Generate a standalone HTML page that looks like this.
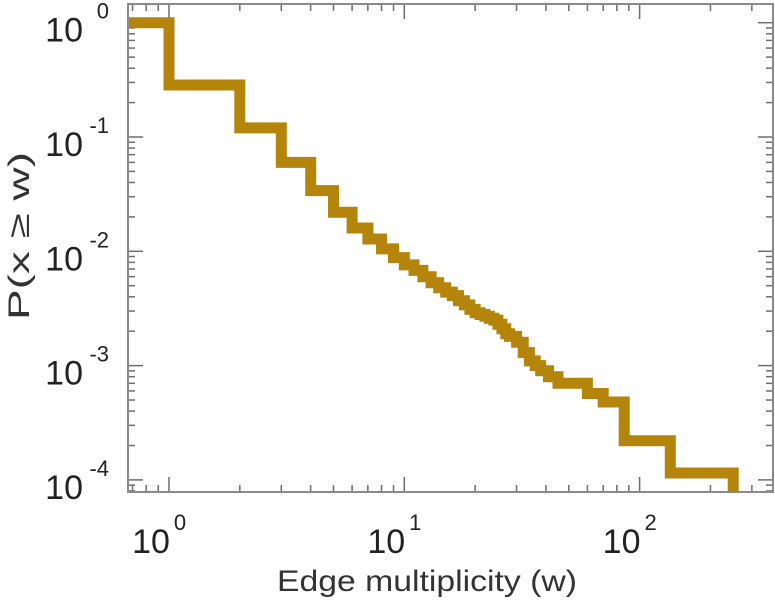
<!DOCTYPE html>
<html><head><meta charset="utf-8">
<style>
html,body{margin:0;padding:0;background:#fff;}
svg{display:block;font-family:"Liberation Sans",sans-serif;}
</style></head>
<body>
<svg id="chart" width="775" height="600" viewBox="0 0 775 600" xmlns="http://www.w3.org/2000/svg">
<defs><clipPath id="plotclip"><rect x="128" y="4" width="645" height="488"/></clipPath></defs>
<g id="ticks"></g>
<g id="series" clip-path="url(#plotclip)"></g>
<rect x="128" y="4" width="645" height="488" fill="none" stroke="#8a8a8a" stroke-width="2"/>
<g id="labels"></g>
<text x="427" y="591" font-size="30" fill="#333" text-anchor="middle" textLength="300" lengthAdjust="spacingAndGlyphs">Edge multiplicity (w)</text>
<text transform="translate(29,236) rotate(-90)" font-size="30" fill="#333" text-anchor="middle" textLength="168" lengthAdjust="spacingAndGlyphs">P(x ≥ w)</text>
</svg>
<script>
const xTickExps = [0, 1, 2];
const yTickExps = [0, -1, -2, -3, -4];
const stepX = [1, 2, 3, 4, 5, 6, 7, 8, 9, 10, 11, 12, 13, 14, 15, 16, 17, 18, 19, 20, 21, 22, 23, 24, 25, 26, 27, 28, 30, 32, 34, 36, 38, 41, 45, 52, 60, 70, 86, 135, 250];
const stepY = [1, 0.285, 0.12, 0.06, 0.034, 0.022, 0.016, 0.0128, 0.0105, 0.0088, 0.0076, 0.0068, 0.006, 0.0053, 0.0048, 0.0044, 0.0041, 0.0037, 0.0034, 0.0031, 0.0029, 0.0028, 0.0027, 0.0026, 0.0025, 0.0023, 0.0021, 0.0019, 0.0018, 0.0016, 0.0013, 0.0011, 0.001, 0.0009, 0.0008, 0.0007, 0.0007, 0.00057, 0.00048, 0.00022, 0.000115];

const NS = "http://www.w3.org/2000/svg";
const L = 128, R = 773, T = 4, B = 492;
const x0 = 169, xDec = 235.3;
const y0 = 22.7, yDec = 114.3;
function sx(v){ return x0 + Math.log10(v) * xDec; }
function sy(v){ return y0 - Math.log10(v) * yDec; }
function mk(tag, attrs){ const e = document.createElementNS(NS, tag); for (const k in attrs) e.setAttribute(k, attrs[k]); return e; }

const ticks = document.getElementById('ticks');
const labels = document.getElementById('labels');
for (let e = -1; e <= 3; e++) {
  for (let m = 1; m <= 9; m++) {
    const x = sx(m * Math.pow(10, e));
    if (x < L || x > R) continue;
    const len = m === 1 ? 15 : 7;
    const t1 = mk('line', {x1:x, y1:B, x2:x, y2:B-len, stroke:'#6e6e6e', 'stroke-width':1.5});
    
    
    ticks.appendChild(t1);
    const t2 = mk('line', {x1:x, y1:T, x2:x, y2:T+len, stroke:'#6e6e6e', 'stroke-width':1.5});
    
    
    ticks.appendChild(t2);
  }
}
for (let e = -5; e <= 1; e++) {
  for (let m = 1; m <= 9; m++) {
    const y = sy(m * Math.pow(10, e));
    if (y < T || y > B) continue;
    const len = m === 1 ? 15 : 7;
    const t1 = mk('line', {x1:L, y1:y, x2:L+len, y2:y, stroke:'#6e6e6e', 'stroke-width':1.5});
    
    
    ticks.appendChild(t1);
    const t2 = mk('line', {x1:R, y1:y, x2:R-len, y2:y, stroke:'#6e6e6e', 'stroke-width':1.5});
    
    
    ticks.appendChild(t2);
  }
}
xTickExps.forEach(e => {
  const x = sx(Math.pow(10, e));
  const t = mk('text', {x:x-18, y:553, 'font-size':34, fill:'#222', 'text-anchor':'middle'});
  t.textContent = '10';
  
  
  labels.appendChild(t);
  const s = mk('text', {x:x+11, y:530, 'font-size':22, fill:'#222', 'text-anchor':'middle'});
  s.textContent = String(e);
  
  
  labels.appendChild(s);
});
yTickExps.forEach(e => {
  const y = sy(Math.pow(10, e));
  const t = mk('text', {x:83, y:y+19, 'font-size':34, fill:'#222', 'text-anchor':'end'});
  t.textContent = '10';
  
  
  labels.appendChild(t);
  const s = mk('text', {x:109, y:y-4, 'font-size':22, fill:'#222', 'text-anchor':'end'});
  s.textContent = String(e);
  
  
  labels.appendChild(s);
});
let d = 'M' + (L - 10) + ',' + sy(stepY[0]);
for (let i = 0; i < stepX.length; i++) {
  const x = sx(stepX[i]);
  d += ' H' + x.toFixed(1);
  if (i + 1 < stepY.length) d += ' V' + sy(stepY[i + 1]).toFixed(1);
  else d += ' V' + (B + 20);
}
const path = mk('path', {d:d, fill:'none', stroke:'#b5840a', 'stroke-width':11, 'stroke-linejoin':'miter', 'stroke-linecap':'butt'});


document.getElementById('series').appendChild(path);
</script>
</body></html>
